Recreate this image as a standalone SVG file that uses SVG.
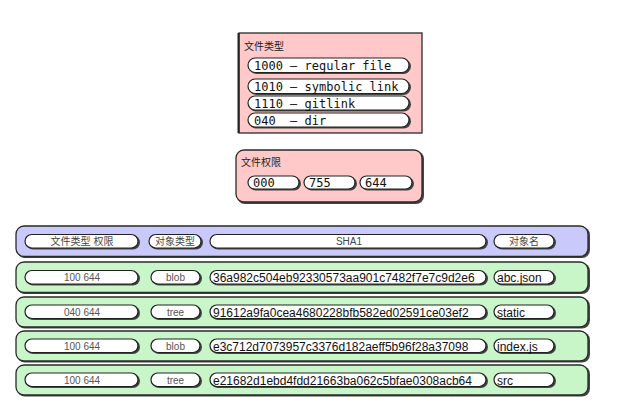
<svg xmlns="http://www.w3.org/2000/svg" width="643" height="403" viewBox="0 0 643 403">
<style>
.box{stroke:#2a2a2a;stroke-width:1.3}
.pink{fill:#ffc9c9}
.blue{fill:#c9c9fb}
.green{fill:#c9f6c9}
.pill{fill:#fff;stroke:#222;stroke-width:1.2}
.shadow{fill:#444}
.mono{font-family:"DejaVu Sans Mono",monospace;font-size:12px;fill:#111;white-space:pre}
.cjk{font-family:"Liberation Sans","Noto Sans CJK SC",sans-serif;font-size:10px;fill:#222}
.hd{font-family:"Liberation Sans","Noto Sans CJK SC",sans-serif;font-size:10px;fill:#444;text-anchor:middle}
.sm{font-family:"Liberation Sans",sans-serif;font-size:10px;fill:#555;text-anchor:middle}
.big{font-family:"Liberation Sans",sans-serif;font-size:12px;fill:#111}
</style>
<rect width="643" height="403" fill="#fff"/>

<g id="file-type">
  <rect x="239" y="33" width="183" height="100" class="box pink"/>
  <line x1="238.5" y1="33" x2="238.5" y2="133" stroke="#222" stroke-width="2"/>
  <text x="244" y="50" class="cjk">文件类型</text>
  <rect x="249" y="59" width="162" height="15" rx="7.5" class="shadow"/>
  <rect x="248" y="58" width="161" height="14.5" rx="7.2" class="pill"/>
  <text x="254" y="70" class="mono">1000 – regular file</text>
  <rect x="249" y="80" width="162" height="15" rx="7.5" class="shadow"/>
  <rect x="248" y="79" width="161" height="14.5" rx="7.2" class="pill"/>
  <text x="254" y="91" class="mono">1010 – symbolic link</text>
  <rect x="249" y="97" width="162" height="14.5" rx="7.2" class="shadow"/>
  <rect x="248" y="96" width="161" height="14" rx="7" class="pill"/>
  <text x="254" y="108" class="mono">1110 – gitlink</text>
  <rect x="249" y="114" width="162" height="14.5" rx="7.2" class="shadow"/>
  <rect x="248" y="113" width="161" height="14" rx="7" class="pill"/>
  <text x="254" y="125" class="mono">040  – dir</text>
</g>

<g id="file-perm">
  <rect x="237" y="151" width="187" height="53" rx="8" class="shadow"/>
  <rect x="236" y="150" width="186" height="52" rx="8" class="box pink"/>
  <text x="241" y="166" class="cjk">文件权限</text>
  <rect x="249" y="177" width="52" height="13.5" rx="6.7" class="shadow"/>
  <rect x="248" y="176" width="51" height="13" rx="6.5" class="pill"/>
  <text x="253" y="187" class="mono">000</text>
  <rect x="305" y="177" width="52" height="13.5" rx="6.7" class="shadow"/>
  <rect x="304" y="176" width="51" height="13" rx="6.5" class="pill"/>
  <text x="309" y="187" class="mono">755</text>
  <rect x="361" y="177" width="53" height="13.5" rx="6.7" class="shadow"/>
  <rect x="360" y="176" width="52" height="13" rx="6.5" class="pill"/>
  <text x="365" y="187" class="mono">644</text>
</g>

<g id="header-row">
  <rect x="17" y="227" width="573" height="31" rx="8" class="shadow"/>
  <rect x="16" y="226" width="572" height="30.5" rx="8" class="box blue"/>
  <rect x="26" y="235.5" width="114" height="14" rx="7" class="shadow"/>
  <rect x="25" y="234.5" width="113" height="13.5" rx="6.7" class="pill"/>
  <text x="82" y="245" class="hd">文件类型 权限</text>
  <rect x="150" y="235.5" width="53" height="14" rx="7" class="shadow"/>
  <rect x="149" y="234.5" width="52" height="13.5" rx="6.7" class="pill"/>
  <text x="175" y="245" class="hd">对象类型</text>
  <rect x="211" y="235.5" width="277" height="14" rx="7" class="shadow"/>
  <rect x="210" y="234.5" width="276" height="13.5" rx="6.7" class="pill"/>
  <text x="349" y="245" class="hd">SHA1</text>
  <rect x="495" y="235.5" width="61" height="14" rx="7" class="shadow"/>
  <rect x="494" y="234.5" width="60" height="13.5" rx="6.7" class="pill"/>
  <text x="524" y="245" class="hd">对象名</text>
</g>

<g id="row-1">
  <rect x="17" y="263" width="573" height="31" rx="8" class="shadow"/>
  <rect x="16" y="262" width="572" height="30.5" rx="8" class="box green"/>
  <rect x="26" y="271.5" width="114" height="14" rx="7" class="shadow"/>
  <rect x="25" y="270.5" width="113" height="13.5" rx="6.7" class="pill"/>
  <text x="82" y="281" class="sm">100 644</text>
  <rect x="152" y="271.5" width="50" height="14" rx="7" class="shadow"/>
  <rect x="151" y="270.5" width="49" height="13.5" rx="6.7" class="pill"/>
  <text x="175.5" y="281" class="sm">blob</text>
  <rect x="211" y="271.5" width="277" height="14" rx="7" class="shadow"/>
  <rect x="210" y="270.5" width="276" height="13.5" rx="6.7" class="pill"/>
  <text x="213" y="282" class="big">36a982c504eb92330573aa901c7482f7e7c9d2e6</text>
  <rect x="495" y="271.5" width="61" height="14" rx="7" class="shadow"/>
  <rect x="494" y="270.5" width="60" height="13.5" rx="6.7" class="pill"/>
  <text x="497" y="282" class="big">abc.json</text>
</g>

<g id="row-2">
  <rect x="17" y="298" width="573" height="30.5" rx="8" class="shadow"/>
  <rect x="16" y="297" width="572" height="30" rx="8" class="box green"/>
  <rect x="26" y="306" width="114" height="14" rx="7" class="shadow"/>
  <rect x="25" y="305" width="113" height="13.5" rx="6.7" class="pill"/>
  <text x="82" y="315.5" class="sm">040 644</text>
  <rect x="152" y="306" width="50" height="14" rx="7" class="shadow"/>
  <rect x="151" y="305" width="49" height="13.5" rx="6.7" class="pill"/>
  <text x="175.5" y="315.5" class="sm">tree</text>
  <rect x="211" y="306" width="277" height="14" rx="7" class="shadow"/>
  <rect x="210" y="305" width="276" height="13.5" rx="6.7" class="pill"/>
  <text x="213" y="316.5" class="big">91612a9fa0cea4680228bfb582ed02591ce03ef2</text>
  <rect x="495" y="306" width="61" height="14" rx="7" class="shadow"/>
  <rect x="494" y="305" width="60" height="13.5" rx="6.7" class="pill"/>
  <text x="497" y="316.5" class="big">static</text>
</g>

<g id="row-3">
  <rect x="17" y="332" width="573" height="30.5" rx="8" class="shadow"/>
  <rect x="16" y="331" width="572" height="30" rx="8" class="box green"/>
  <rect x="26" y="340" width="114" height="14" rx="7" class="shadow"/>
  <rect x="25" y="339" width="113" height="13.5" rx="6.7" class="pill"/>
  <text x="82" y="349.5" class="sm">100 644</text>
  <rect x="152" y="340" width="50" height="14" rx="7" class="shadow"/>
  <rect x="151" y="339" width="49" height="13.5" rx="6.7" class="pill"/>
  <text x="175.5" y="349.5" class="sm">blob</text>
  <rect x="211" y="340" width="277" height="14" rx="7" class="shadow"/>
  <rect x="210" y="339" width="276" height="13.5" rx="6.7" class="pill"/>
  <text x="213" y="350.5" class="big">e3c712d7073957c3376d182aeff5b96f28a37098</text>
  <rect x="495" y="340" width="61" height="14" rx="7" class="shadow"/>
  <rect x="494" y="339" width="60" height="13.5" rx="6.7" class="pill"/>
  <text x="497" y="350.5" class="big">index.js</text>
</g>

<g id="row-4">
  <rect x="17" y="366" width="573" height="30.5" rx="8" class="shadow"/>
  <rect x="16" y="365" width="572" height="30" rx="8" class="box green"/>
  <rect x="26" y="374" width="114" height="14" rx="7" class="shadow"/>
  <rect x="25" y="373" width="113" height="13.5" rx="6.7" class="pill"/>
  <text x="82" y="383.5" class="sm">100 644</text>
  <rect x="152" y="374" width="50" height="14" rx="7" class="shadow"/>
  <rect x="151" y="373" width="49" height="13.5" rx="6.7" class="pill"/>
  <text x="175.5" y="383.5" class="sm">tree</text>
  <rect x="211" y="374" width="277" height="14" rx="7" class="shadow"/>
  <rect x="210" y="373" width="276" height="13.5" rx="6.7" class="pill"/>
  <text x="213" y="384.5" class="big">e21682d1ebd4fdd21663ba062c5bfae0308acb64</text>
  <rect x="495" y="374" width="61" height="14" rx="7" class="shadow"/>
  <rect x="494" y="373" width="60" height="13.5" rx="6.7" class="pill"/>
  <text x="497" y="384.5" class="big">src</text>
</g>

<g id="connectors"></g>
</svg>
